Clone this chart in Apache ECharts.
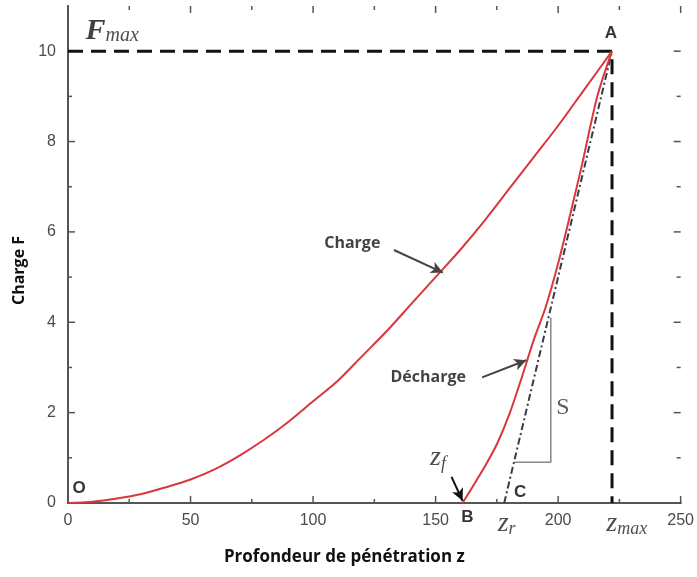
<!DOCTYPE html>
<html>
<head>
<meta charset="utf-8">
<script src="https://cdn.jsdelivr.net/npm/echarts@6/dist/echarts.min.js"></script>
<style>
  html, body { margin: 0; padding: 0; background: #fff; }
  #main { width: 697px; height: 577px; }
</style>
</head>
<body>
<div id="main"></div>
<script>
// courbe de charge (z, F)
var chargeZ = [0, 10, 20, 30, 40, 50, 60, 70, 80, 90, 100, 110, 120, 130, 140, 150, 160, 170, 180, 190, 200, 210, 222];
var chargeF = [0, 0.03, 0.1, 0.2, 0.35, 0.52, 0.75, 1.05, 1.4, 1.8, 2.25, 2.7, 3.25, 3.8, 4.4, 5.0, 5.6, 6.25, 6.95, 7.65, 8.35, 9.1, 10];
// courbe de décharge
var dechargeZ = [161, 165, 170, 175, 180, 185, 190, 195, 200, 205, 210, 216, 222];
var dechargeF = [0, 0.35, 0.8, 1.3, 1.95, 2.75, 3.6, 4.35, 5.3, 6.4, 7.55, 9.0, 10];
// tangente C -> A
var tangentZ = [178, 222];
var tangentF = [0, 10];
// triangle S
var slopeZ = [182, 197, 197];
var slopeF = [0.9, 0.9, 4.1];
var zMax = 222;
var fMax = 10;
var xTicks = [0, 50, 100, 150, 200, 250];
var yTicks = [0, 2, 4, 6, 8, 10];
var xMinorTicks = [25, 75, 125, 175, 225];
var yMinorTicks = [1, 3, 5, 7, 9];

function pairs(xs, ys) {
    return xs.map(function (x, i) { return [x, ys[i]]; });
}

var chart = echarts.init(document.getElementById('main'));

var axisColor = '#555';
var serif = '"Liberation Serif", "DejaVu Serif", serif';
var sans = '"Liberation Sans", Arial, sans-serif';
var bold = '"Open Sans", "Noto Sans", sans-serif';
var X_MAX = 250, Y_MAX = 11;

function mkLabel(pos, text, style) {
    return {
        value: pos,
        label: { show: true, formatter: text, rich: style.rich, fontFamily: style.fontFamily,
                 fontSize: style.fontSize, fontWeight: style.fontWeight, color: style.color || '#111' }
    };
}

var italicRich = {
    z: { fontFamily: serif, fontStyle: 'italic', fontSize: 28, color: '#222', lineHeight: 30 },
    s: { fontFamily: serif, fontStyle: 'italic', fontSize: 18, color: '#222', lineHeight: 30, verticalAlign: 'bottom', padding: [14, 0, 0, 0] },
    F: { fontFamily: serif, fontStyle: 'italic', fontWeight: 'bold', fontSize: 30, color: '#111', lineHeight: 30 },
    m: { fontFamily: serif, fontStyle: 'italic', fontSize: 20, color: '#222', lineHeight: 30, verticalAlign: 'bottom', padding: [14, 0, 0, 0] }
};

// ticks vers l'intérieur, sur les 4 côtés du cadre
function tickItem(horizontal) {
    return function (params, api) {
        var v = api.value(0);
        var len = api.value(1);
        var style = { stroke: axisColor, lineWidth: 1.5 };
        var a, b;
        if (horizontal) {
            a = api.coord([v, 0]); b = api.coord([v, Y_MAX]);
            return { type: 'group', children: [
                { type: 'line', shape: { x1: a[0], y1: a[1], x2: a[0], y2: a[1] - len }, style: style },
                { type: 'line', shape: { x1: b[0], y1: b[1], x2: b[0], y2: b[1] + len }, style: style }
            ] };
        }
        a = api.coord([0, v]); b = api.coord([X_MAX, v]);
        return { type: 'group', children: [
            { type: 'line', shape: { x1: a[0], y1: a[1], x2: a[0] + len, y2: a[1] }, style: style },
            { type: 'line', shape: { x1: b[0], y1: b[1], x2: b[0] - len, y2: b[1] }, style: style }
        ] };
    };
}
function tickData(major, minor) {
    return major.map(function (v) { return [v, 7]; }).concat(minor.map(function (v) { return [v, 4]; }));
}

var option = {
    animation: false,
    grid: { left: 68, right: 15, top: 6, bottom: 74 },
    xAxis: [{
        type: 'value', min: 0, max: X_MAX, interval: 50, position: 'bottom',
        name: 'Profondeur de pénétration z', nameLocation: 'middle', nameGap: 46,
        nameTextStyle: { fontFamily: bold, fontWeight: 'bold', fontSize: 17, color: '#111', padding: [0, 60, 0, 0] },
        axisLine: { lineStyle: { color: axisColor, width: 2 } },
        axisTick: { show: false },
        axisLabel: { fontFamily: sans, fontSize: 16, color: '#4a4a4a', margin: 10,
                     formatter: function (v) { return xTicks.indexOf(v) >= 0 ? String(v) : ''; } },
        splitLine: { show: false }
    }, {
        type: 'value', min: 0, max: X_MAX, position: 'top',
        axisLine: { lineStyle: { color: axisColor, width: 2 } },
        axisTick: { show: false }, axisLabel: { show: false }, splitLine: { show: false }
    }],
    yAxis: [{
        type: 'value', min: 0, max: Y_MAX, interval: 2, position: 'left',
        name: 'Charge F', nameLocation: 'middle', nameGap: 36,
        nameTextStyle: { fontFamily: bold, fontWeight: 'bold', fontSize: 16, color: '#111', padding: [0, 32, 0, 0] },
        axisLine: { show: true, lineStyle: { color: axisColor, width: 2 } },
        axisTick: { show: false },
        axisLabel: { fontFamily: sans, fontSize: 16, color: '#4a4a4a', margin: 12, showMaxLabel: false,
                     formatter: function (v) { return yTicks.indexOf(v) >= 0 ? String(v) : ''; } },
        splitLine: { show: false }
    }, {
        type: 'value', min: 0, max: Y_MAX, position: 'right',
        axisLine: { show: true, lineStyle: { color: axisColor, width: 2 } },
        axisTick: { show: false }, axisLabel: { show: false }, splitLine: { show: false }
    }],
    series: [
        {
            name: 'ticksX', type: 'custom', silent: true, clip: false,
            renderItem: tickItem(true), data: tickData(xTicks, xMinorTicks)
        },
        {
            name: 'ticksY', type: 'custom', silent: true, clip: false,
            renderItem: tickItem(false), data: tickData(yTicks, yMinorTicks)
        },
        {
            name: 'Fmax', type: 'line', symbol: 'none', z: 3,
            data: [[0, fMax], [zMax, fMax], [zMax, 0]],
            lineStyle: { color: '#111', width: 3, type: [15, 8] }
        },
        {
            name: 'S', type: 'line', symbol: 'none',
            data: pairs(slopeZ, slopeF),
            lineStyle: { color: '#888', width: 1.5 }
        },
        {
            name: 'Tangente', type: 'line', symbol: 'none',
            data: pairs(tangentZ, tangentF),
            lineStyle: { color: '#3a3a48', width: 2, type: [7, 3, 2, 3] }
        },
        {
            name: 'Charge', type: 'line', symbol: 'none', smooth: 0.3, z: 4,
            data: pairs(chargeZ, chargeF),
            lineStyle: { color: '#d9363e', width: 2 },
            markLine: {
                silent: true, symbol: ['none', 'arrow'], symbolSize: [9, 12],
                label: { show: false },
                data: [
                    [{ coord: [133, 5.6], lineStyle: { color: '#444', width: 2, type: 'solid' } }, { coord: [153, 5.1] }],
                    [{ coord: [169, 2.78], lineStyle: { color: '#444', width: 2, type: 'solid' } }, { coord: [187, 3.16] }],
                    [{ coord: [156.5, 0.58], lineStyle: { color: '#111', width: 2, type: 'solid' } }, { coord: [161, 0.05] }]
                ]
            }
        },
        {
            name: 'Décharge', type: 'line', symbol: 'none', smooth: 0.3, z: 4,
            data: pairs(dechargeZ, dechargeF),
            lineStyle: { color: '#d9363e', width: 2 }
        },
        {
            name: 'labels', type: 'scatter', symbolSize: 0, clip: false, silent: true, z: 6,
            label: { show: true, position: 'inside' },
            data: [
                mkLabel([116, 5.74], 'Charge', { fontFamily: bold, fontSize: 16, fontWeight: 'bold' }),
                mkLabel([147, 2.78], 'Décharge', { fontFamily: bold, fontSize: 16, fontWeight: 'bold' }),
                mkLabel([221.5, 10.4], 'A', { fontFamily: sans, fontSize: 17, fontWeight: 'bold', color: '#000' }),
                mkLabel([4.5, 0.33], 'O', { fontFamily: sans, fontSize: 17, fontWeight: 'bold', color: '#000' }),
                mkLabel([163, -0.32], 'B', { fontFamily: sans, fontSize: 17, fontWeight: 'bold', color: '#000' }),
                mkLabel([184.5, 0.24], 'C', { fontFamily: sans, fontSize: 17, fontWeight: 'bold', color: '#000' }),
                mkLabel([202, 2.1], 'S', { fontFamily: serif, fontSize: 24, color: '#333' }),
                mkLabel([151, 1.0], '{z|z}{s|f}', { rich: italicRich }),
                mkLabel([179, -0.45], '{z|z}{s|r}', { rich: italicRich }),
                mkLabel([228, -0.45], '{z|z}{s|max}', { rich: italicRich }),
                mkLabel([18, 10.45], '{F|F}{m|max}', { rich: italicRich })
            ]
        }
    ]
};
chart.setOption(option);
</script>
</body>
</html>
